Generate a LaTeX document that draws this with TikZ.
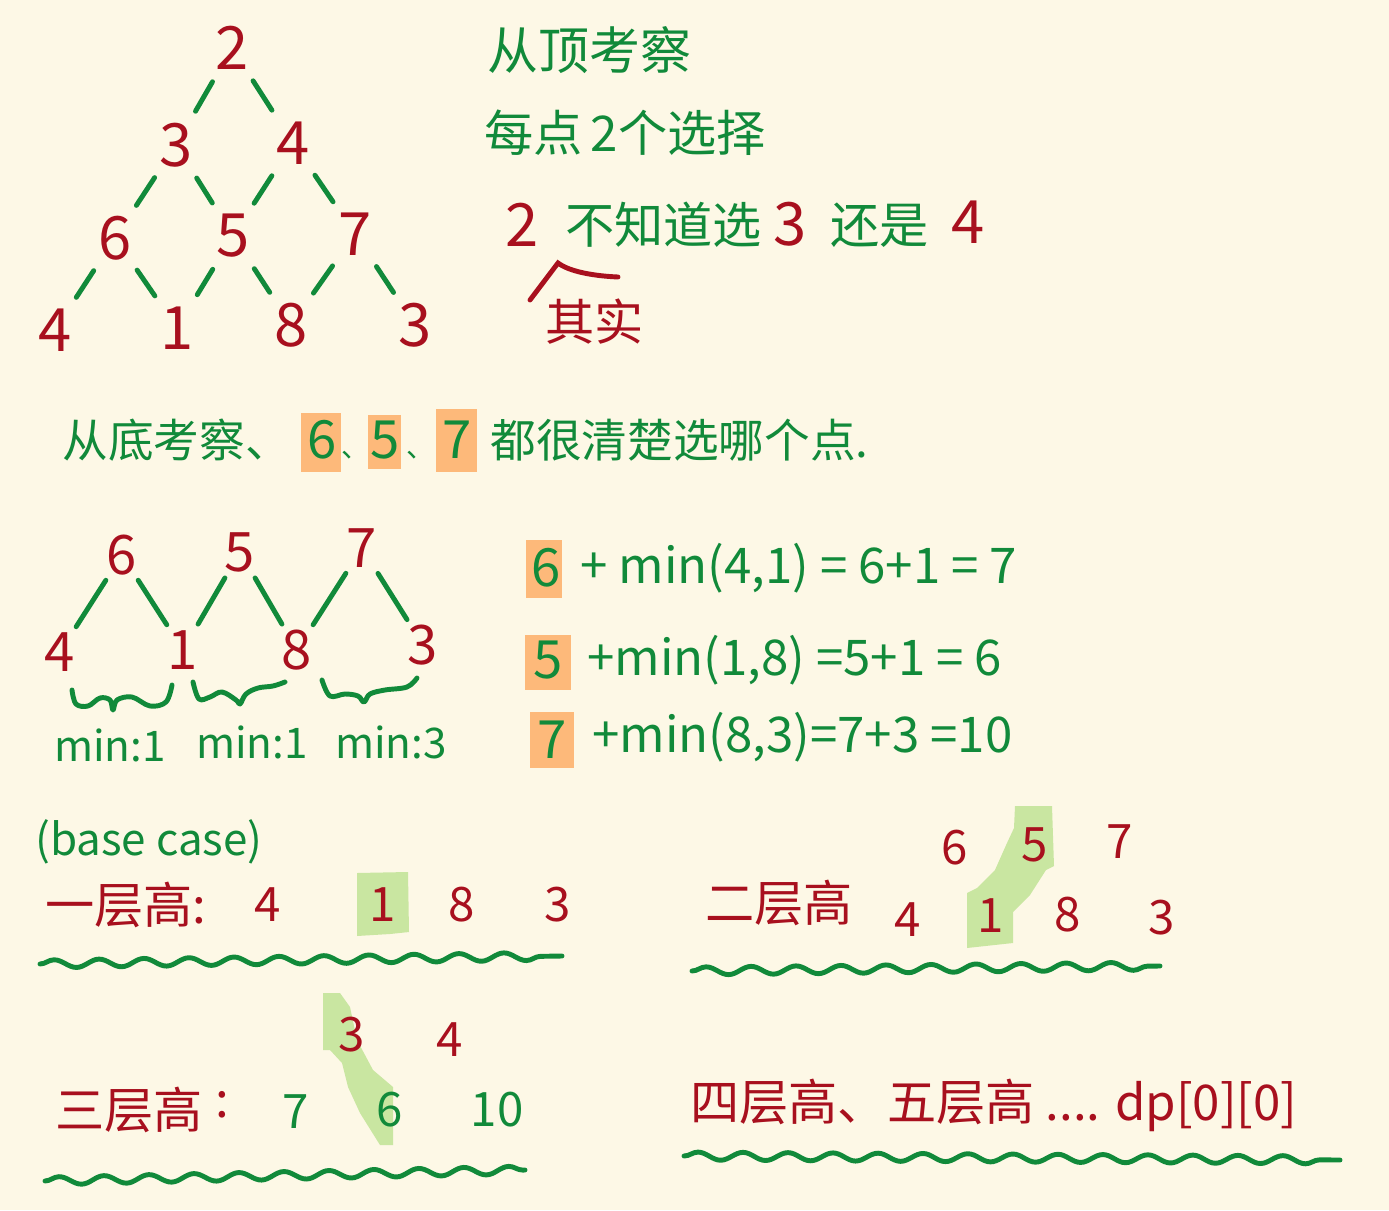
\documentclass[tikz,border=0pt]{standalone}
\usepackage{fontspec}
\setmainfont{Noto Sans CJK SC}
\usetikzlibrary{decorations.pathmorphing}
\definecolor{bg}{HTML}{FDF8E6}
\definecolor{hred}{HTML}{A8101E}
\definecolor{hgreen}{HTML}{118A3A}
\definecolor{hor}{HTML}{FDB97A}
\definecolor{hlg}{HTML}{C9E6A1}
\begin{document}
\begin{tikzpicture}[x=0.02cm,y=-0.02cm,
  bigdig/.style={text=hred,font=\fontsize{34}{36}\selectfont,inner sep=1pt},
  subdig/.style={text=hred,font=\fontsize{31}{33}\selectfont,inner sep=1pt},
  smalldig/.style={text=hred,font=\fontsize{27}{29}\selectfont,inner sep=1pt},
  gtxt/.style={text=hgreen,font=\fontsize{28}{30}\selectfont,inner sep=0pt,anchor=west},
  rtxt/.style={text=hred,font=\fontsize{28}{30}\selectfont,inner sep=0pt,anchor=west},
  gmid/.style={text=hgreen,font=\fontsize{26}{28}\selectfont,inner sep=0pt},
  conn/.style={draw=hgreen,line width=2.8pt,line cap=round,shorten <=0.78cm,shorten >=0.78cm},
  stroke/.style={draw=hgreen,line width=2.8pt,line cap=round,line join=round},
  wavy/.style={draw=hgreen,line width=2.8pt,line cap=round,decorate,decoration={snake,amplitude=0.08cm,segment length=0.9cm}},
  orbox/.style={fill=hor,draw=none},
  lgbox/.style={fill=hlg,draw=none}
]
\fill[bg] (0,0) rectangle (1389,1210);
\useasboundingbox (0,0) rectangle (1389,1210);

% ---------- top triangle ----------
\node[bigdig] (t0) at (232,48) {2};
\node[bigdig] (t1a) at (176,145) {3};
\node[bigdig] (t1b) at (293,143) {4};
\node[bigdig] (t2a) at (115,238) {6};
\node[bigdig] (t2b) at (233,236) {5};
\node[bigdig] (t2c) at (355,234) {7};
\node[bigdig] (t3a) at (55,330) {4};
\node[bigdig] (t3b) at (177,328) {1};
\node[bigdig] (t3c) at (291,325) {8};
\node[bigdig] (t3d) at (415,325) {3};
\draw[conn] (t0.center) -- (t1a.center);
\draw[conn] (t0.center) -- (t1b.center);
\draw[conn] (t1a.center) -- (t2a.center);
\draw[conn] (t1a.center) -- (t2b.center);
\draw[conn] (t1b.center) -- (t2b.center);
\draw[conn] (t1b.center) -- (t2c.center);
\draw[conn] (t2a.center) -- (t3a.center);
\draw[conn] (t2a.center) -- (t3b.center);
\draw[conn] (t2b.center) -- (t3b.center);
\draw[conn] (t2b.center) -- (t3c.center);
\draw[conn] (t2c.center) -- (t3c.center);
\draw[conn] (t2c.center) -- (t3d.center);

% ---------- top right text ----------
\node[gtxt,font=\fontsize{29}{31}\selectfont] (l1) at (487,50) {从顶考察};
\node[gtxt] (l2) at (484,133) {每点\,2个选择};
\node[bigdig] (q2) at (522,225) {2};
\node[gtxt] (q1) at (565,225) {不知道选};
\node[bigdig] (q3) at (790,224) {3};
\node[gtxt] (q4) at (830,225) {还是};
\node[bigdig] (q5) at (968,222) {4};
\draw[draw=hred,line width=2.8pt,line cap=round] (530,300) -- (558,263) .. controls (570,272) and (595,276) .. (618,277);
\node[rtxt] (qs) at (545,322) {其实};

% ---------- bottom-up line ----------
\fill[orbox] (301,413) rectangle (341,472);
\fill[orbox] (368,415) rectangle (401,469);
\fill[orbox] (436,409) rectangle (477,472);
\node[text=hgreen,font=\fontsize{26}{28}\selectfont,inner sep=0pt,anchor=west] (b1) at (62,440) {从底考察、};
\node[gmid,font=\fontsize{30}{32}\selectfont] (b6) at (322,440) {6};
\node[gmid,font=\fontsize{16}{18}\selectfont] (bc1) at (356,455) {、};
\node[gmid,font=\fontsize{30}{32}\selectfont] (b5) at (385,440) {5};
\node[gmid,font=\fontsize{16}{18}\selectfont] (bc2) at (421,455) {、};
\node[gmid,font=\fontsize{30}{32}\selectfont] (b7) at (457,440) {7};
\node[text=hgreen,font=\fontsize{26}{28}\selectfont,inner sep=0pt,anchor=west] (b2) at (490,440) {都很清楚选哪个点.};

% ---------- sub trees ----------
\node[subdig] (s6) at (122,555) {6};
\node[subdig] (s5) at (240,552) {5};
\node[subdig] (s7) at (362,548) {7};
\node[subdig] (s4) at (60,652) {4};
\node[subdig] (s1) at (183,650) {1};
\node[subdig] (s8) at (297,650) {8};
\node[subdig] (s3) at (423,645) {3};
\draw[conn,shorten <=0.6cm,shorten >=0.6cm] (s6.center) -- (s4.center);
\draw[conn,shorten <=0.6cm,shorten >=0.6cm] (s6.center) -- (s1.center);
\draw[conn,shorten <=0.6cm,shorten >=0.6cm] (s5.center) -- (s1.center);
\draw[conn,shorten <=0.6cm,shorten >=0.6cm] (s5.center) -- (s8.center);
\draw[conn,shorten <=0.6cm,shorten >=0.6cm] (s7.center) -- (s8.center);
\draw[conn,shorten <=0.6cm,shorten >=0.6cm] (s7.center) -- (s3.center);
\draw[stroke] plot[smooth,tension=0.6] coordinates {(72,690) (76,704) (88,706) (100,698) (110,700) (113,710) (117,700) (132,697) (150,706) (166,702) (172,685)};
\draw[stroke] plot[smooth,tension=0.6] coordinates {(193,682) (199,699) (210,697) (222,692) (236,700) (240,704) (246,694) (258,688) (273,686) (285,682)};
\draw[stroke] plot[smooth,tension=0.6] coordinates {(322,680) (330,696) (345,694) (358,696) (364,702) (370,694) (385,690) (407,687) (417,678)};
\node[gmid,font=\fontsize{24}{26}\selectfont] (m1) at (110,745) {min:1};
\node[gmid,font=\fontsize{24}{26}\selectfont] (m2) at (252,742) {min:1};
\node[gmid,font=\fontsize{24}{26}\selectfont] (m3) at (391,742) {min:3};

% ---------- equations ----------
\fill[orbox] (526,540) rectangle (562,598);
\fill[orbox] (525,635) rectangle (571,690);
\fill[orbox] (530,712) rectangle (574,768);
\node[gmid,font=\fontsize{30}{32}\selectfont] (e1) at (546,568) {6};
\node[gtxt] (e1r) at (580,568) {+ min(4,1) = 6+1 = 7};
\node[gmid,font=\fontsize{30}{32}\selectfont] (e2) at (548,660) {5};
\node[gtxt] (e2r) at (587,660) {+min(1,8) =5+1 = 6};
\node[gmid,font=\fontsize{30}{32}\selectfont] (e3) at (552,740) {7};
\node[gtxt] (e3r) at (592,737) {+min(8,3)=7+3 =10};

% ---------- base case ----------
\node[text=hgreen,font=\fontsize{25}{27}\selectfont,inner sep=0pt,anchor=west] (bc) at (35,842) {(base case)};
\fill[lgbox] (357,873) -- (408,872) -- (409,932) -- (390,934) -- (357,936) -- cycle;
\node[rtxt] (one) at (45,905) {一层高:};
\node[smalldig] (o4) at (268,905) {4};
\node[smalldig] (o1) at (383,905) {1};
\node[smalldig] (o8) at (462,905) {8};
\node[smalldig] (o3) at (558,905) {3};
\coordinate (w1a) at (40,964);
\coordinate (w1b) at (562,956);
\draw[wavy] (w1a) -- (w1b);

% ---------- two levels ----------
\fill[lgbox] (1015,806) -- (1052,806) -- (1054,866) -- (1046,870) -- (1030,895) -- (1013,912) -- (1013,943) -- (967,948) -- (967,893) -- (977,888) -- (995,870) -- (1007,843) -- (1014,828) -- cycle;
\node[rtxt] (two) at (705,903) {二层高};
\node[smalldig] (w6) at (955,848) {6};
\node[smalldig] (w5) at (1035,845) {5};
\node[smalldig] (w7) at (1120,842) {7};
\node[smalldig] (w4) at (908,920) {4};
\node[smalldig] (w1) at (991,916) {1};
\node[smalldig] (w8) at (1068,915) {8};
\node[smalldig] (w3) at (1162,918) {3};
\coordinate (w2a) at (692,971);
\coordinate (w2b) at (1160,966);
\draw[wavy] (w2a) -- (w2b);

% ---------- three levels ----------
\fill[lgbox] (323,993) -- (340,993) -- (350,1007) -- (357,1040) -- (373,1070) -- (393,1087) -- (393,1145) -- (380,1145) -- (360,1113) -- (348,1087) -- (342,1063) -- (330,1050) -- (323,1050) -- cycle;
\node[rtxt] (three) at (55,1110) {三层高};
\node[text=hred,font=\fontsize{28}{30}\selectfont,inner sep=0pt] (colon3) at (222,1105) {:};
\node[smalldig] (h3) at (352,1035) {3};
\node[smalldig] (h4) at (450,1040) {4};
\node[smalldig,text=hgreen] (h7) at (296,1112) {7};
\node[smalldig,text=hgreen] (h6) at (390,1110) {6};
\node[smalldig,text=hgreen] (h10) at (497,1110) {10};
\coordinate (w3a) at (45,1181);
\coordinate (w3b) at (525,1170);
\draw[wavy] (w3a) -- (w3b);

% ---------- four / five levels ----------
\node[rtxt] (four) at (690,1105) {四层高、五层高 .... dp[0][0]};
\coordinate (w4a) at (684,1156);
\coordinate (w4b) at (1340,1160);
\draw[wavy] (w4a) -- (w4b);
\end{tikzpicture}
\end{document}
